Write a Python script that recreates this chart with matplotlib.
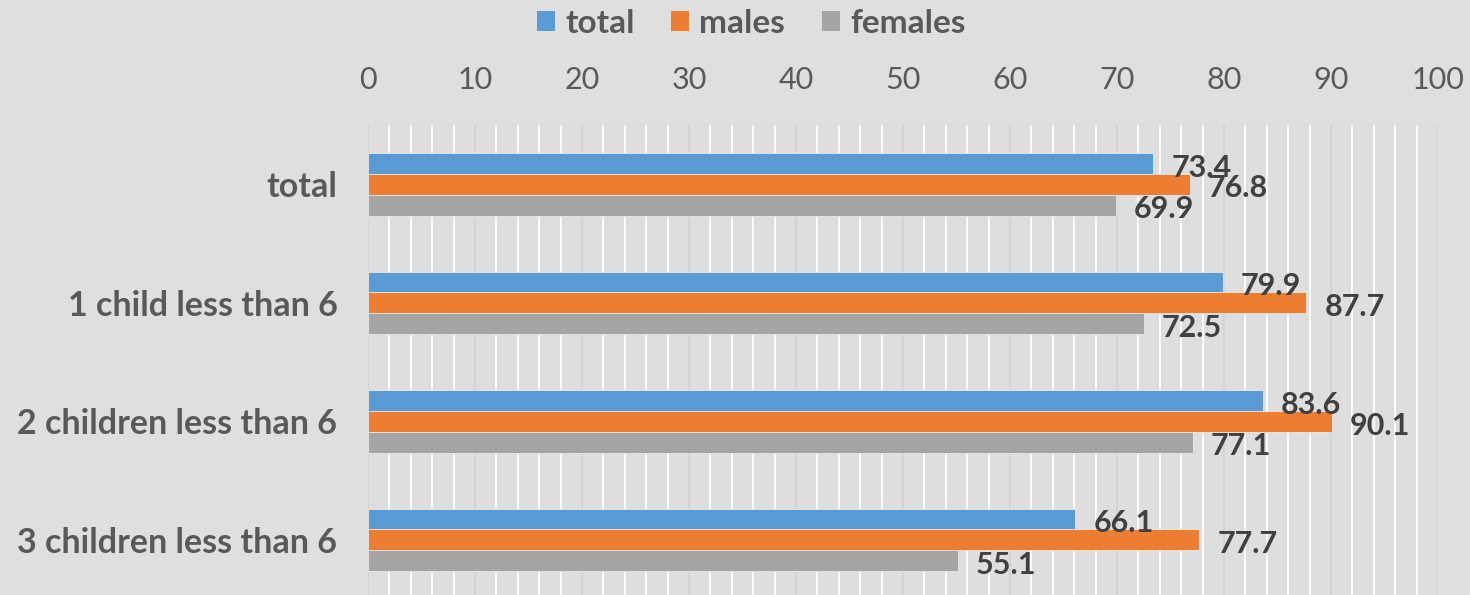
import matplotlib.pyplot as plt
from matplotlib.patches import Patch
import numpy as np

categories = ["total", "1 child less than 6", "2 children less than 6", "3 children less than 6"]
total = [73.4, 79.9, 83.6, 66.1]
males = [76.8, 87.7, 90.1, 77.7]
females = [69.9, 72.5, 77.1, 55.1]

series = [("total", total, "#5B9BD5"), ("males", males, "#ED7D31"), ("females", females, "#A5A5A5")]

plt.rcParams['font.family'] = ['Lato', 'DejaVu Sans']

fig = plt.figure(figsize=(14.7, 5.95), dpi=100)
fig.patch.set_facecolor("#dfdfdf")
ax = fig.add_axes([368 / 1470, -0.007, 1070 / 1470, 1 - 125 / 595 + 0.007])
ax.set_facecolor("#dedede")

y = np.arange(len(categories))
h = 0.176
for i, (name, vals, col) in enumerate(series):
    pos = y + (i - 1) * h
    ax.barh(pos, vals, height=h, color=col, edgecolor="#e8e8e8", linewidth=0.6, zorder=3)
    for p, v in zip(pos, vals):
        ax.annotate(f"{v:.1f}", (v, p), xytext=(13, -3), textcoords="offset points",
                    ha="left", va="center", fontsize=22, fontweight="bold", color="#404040", zorder=4)

ax.set_xlim(0, 100)
ax.set_ylim(3.5, -0.5)
ax.set_xticks(range(0, 101, 10))
ax.set_xticks(range(0, 101, 2), minor=True)
ax.xaxis.tick_top()
ax.tick_params(axis="x", which="both", length=0, pad=22, labelsize=22, labelcolor="#595959")
ax.set_yticks(y)
ax.set_yticklabels(categories)
ax.tick_params(axis="y", length=0, pad=22, labelsize=24.5, labelcolor="#595959")
for t in ax.get_yticklabels():
    t.set_fontweight("bold")

ax.grid(axis="x", which="minor", color="white", linewidth=1.3, zorder=1)
ax.grid(axis="x", which="major", color="#d2d2d2", linewidth=1.3, zorder=2)
for s in ax.spines.values():
    s.set_visible(False)

handles = [Patch(facecolor=c, label=n) for n, _, c in series]
leg = fig.legend(handles=handles, loc="upper center", bbox_to_anchor=(0.511, 1.036), ncol=3,
                 frameon=False, handlelength=0.55, handleheight=0.55, handletextpad=0.3,
                 columnspacing=1.1, fontsize=24)
for t in leg.get_texts():
    t.set_fontweight("bold")
    t.set_color("#595959")

fig.savefig("out.png", dpi=100, facecolor=fig.get_facecolor())
